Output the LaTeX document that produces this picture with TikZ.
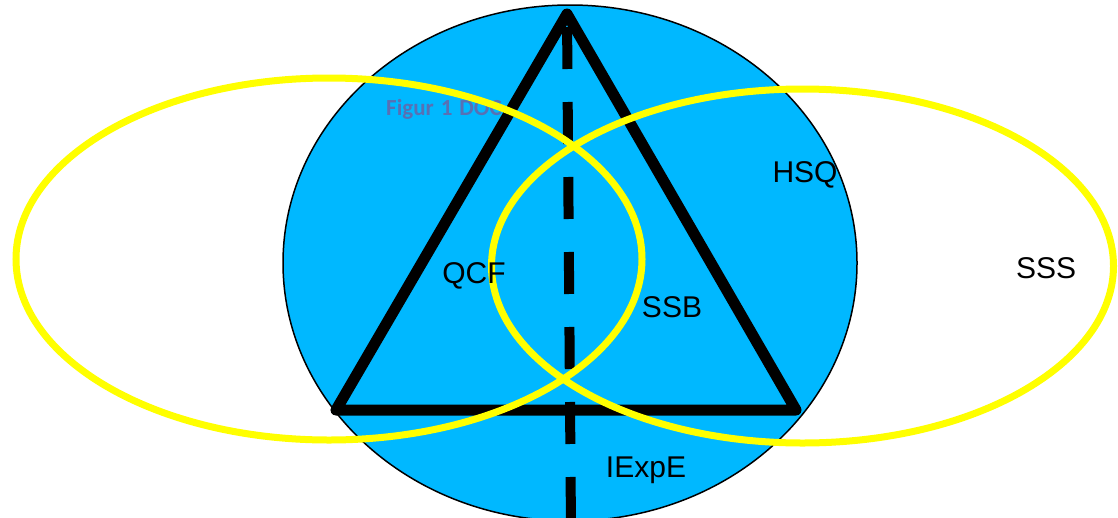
\documentclass[tikz,border=0pt]{standalone}
\usepackage{fontspec}
\setmainfont{Liberation Sans}
\newfontfamily\capfont{Carlito}
\usetikzlibrary{positioning}
\definecolor{skyfill}{RGB}{0,184,255}
\definecolor{capgray}{RGB}{88,112,180}
\definecolor{ringyellow}{RGB}{255,255,0}

\tikzset{
  ring/.style={draw=ringyellow, line width=7pt},
  tri/.style={draw=black, line width=11pt, line join=round},
  axis/.style={draw=black, line width=10pt, dash pattern=on 42pt off 33pt, dash phase=62pt},
  lbl/.style={font=\fontsize{30}{32}\selectfont, anchor=base, inner sep=0pt}
}

\begin{document}
\begin{tikzpicture}[x=1pt, y=-1pt]
    \useasboundingbox (0,0) rectangle (1118,517);
    \clip (0,0) rectangle (1118,517);
    % background disc
    \filldraw[fill=skyfill, draw=black, line width=1.5pt] (570,263) ellipse [x radius=287pt, y radius=258pt];
    \node[capgray, anchor=base west, inner sep=0pt,
        font=\capfont\bfseries\fontsize{23}{25}\selectfont] (cap) at (386,115) {Figur\hspace{7pt}1\hspace{7pt}DOC};
    % triangle and axis
    \coordinate (apex) at (567,14);
    \coordinate (bl) at (336,410);
    \coordinate (br) at (796,410);
    \coordinate (foot) at (571,530);
    \draw[tri] (apex) -- (bl) -- (br) -- cycle;
    \draw[axis] (apex) -- (foot);
    % two rings
    \draw[ring] (329,259) ellipse [x radius=313pt, y radius=181pt];
    \draw[ring] (802.5,266) ellipse [x radius=311pt, y radius=177pt];
    % labels
    \node[lbl] (qcf) at (474,283) {QCF};
    \node[lbl] (ssb) at (672,317) {SSB};
    \node[lbl] (hsq) at (805,182) {HSQ};
    \node[lbl] (sss) at (1046,278) {SSS};
    \node[lbl] (iexpe) at (646,477) {IExpE};
\end{tikzpicture}
\end{document}
